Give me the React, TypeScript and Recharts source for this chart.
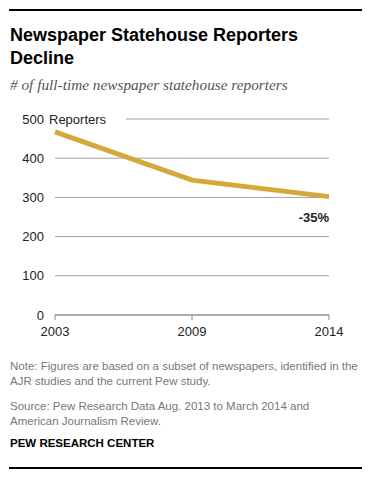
import React from 'react';
import { LineChart, Line, XAxis, YAxis, CartesianGrid, LabelList } from 'recharts';

const years = ['2003', '2009', '2014'];
const reporters = [467, 344, 302];
const yTicks = [0, 100, 200, 300, 400, 500];
const changeLabel = '-35%';

const data = years.map((year, i) => ({ year, reporters: reporters[i] }));

const sans = '"Liberation Sans", Arial, sans-serif';

const YTick = (props: any) => {
  const { x, y, payload } = props;
  const isTop = payload.value === 500;
  return (
    <g>
      {isTop && <rect x={x + 2} y={y - 9} width={80} height={18} fill="#fff" />}
      <text x={x} y={y} dy="0.35em" textAnchor="end" fontSize={13} fill="#222" fontFamily={sans}>
        {payload.value}
      </text>
      {isTop && (
        <text x={x + 5} y={y} dy="0.35em" textAnchor="start" fontSize={13} fill="#222" fontFamily={sans}>
          Reporters
        </text>
      )}
    </g>
  );
};

const EndLabel = (props: any) => {
  const { x, y, index } = props;
  if (index !== reporters.length - 1) return null;
  return (
    <text x={x} y={y + 21} dy="0.35em" textAnchor="end" fontSize={13} fontWeight={700} fill="#222" fontFamily={sans}>
      {changeLabel}
    </text>
  );
};

const App: React.FC = () => {
  return (
    <div style={{ position: 'absolute', left: 0, top: 0, width: 385, height: 481, background: '#fff', fontFamily: sans }}>
      <div style={{ position: 'absolute', left: 9, top: 9, width: 353, height: 2, background: '#000' }} />
      <div style={{ position: 'absolute', left: 10, top: 24, width: 340, fontSize: 18, fontWeight: 700, lineHeight: '23px', color: '#000' }}>
        Newspaper Statehouse Reporters
        <br />
        Decline
      </div>
      <div style={{ position: 'absolute', left: 10, top: 76, fontSize: 15.3, fontStyle: 'italic', fontFamily: '"Liberation Serif", Georgia, serif', color: '#555' }}>
        # of full-time newspaper statehouse reporters
      </div>

      <div style={{ position: 'absolute', left: 0, top: 0 }}>
        <LineChart width={385} height={342} data={data} margin={{ top: 119, right: 56, bottom: 0, left: 0 }}>
          <CartesianGrid vertical={false} stroke="#a0a0a0" strokeWidth={1} />
          <XAxis
            dataKey="year"
            axisLine={{ stroke: '#888' }}
            tickLine={{ stroke: '#888' }}
            tickSize={5}
            tickMargin={7}
            height={27}
            interval={0}
            tick={{ fontSize: 13, fill: '#222', fontFamily: sans }}
          />
          <YAxis
            domain={[0, 500]}
            ticks={yTicks}
            width={55}
            axisLine={false}
            tickLine={false}
            tickSize={0}
            tickMargin={11}
            tick={<YTick />}
          />
          <Line
            type="linear"
            dataKey="reporters"
            stroke="#d4a93a"
            strokeWidth={5}
            dot={false}
            isAnimationActive={false}
          >
            <LabelList dataKey="reporters" content={<EndLabel />} />
          </Line>
        </LineChart>
      </div>

      <div style={{ position: 'absolute', left: 10, top: 359, width: 356, fontSize: 11.5, lineHeight: '15px', color: '#777' }}>
        Note: Figures are based on a subset of newspapers, identified in the AJR studies and the current Pew study.
      </div>
      <div style={{ position: 'absolute', left: 10, top: 399, width: 356, fontSize: 11.5, lineHeight: '15px', color: '#777' }}>
        Source: Pew Research Data Aug. 2013 to March 2014 and
        <br />
        American Journalism Review.
      </div>
      <div style={{ position: 'absolute', left: 10, top: 437, fontSize: 11.5, fontWeight: 700, color: '#000' }}>
        PEW RESEARCH CENTER
      </div>
      <div style={{ position: 'absolute', left: 9, top: 467, width: 353, height: 2, background: '#000' }} />
    </div>
  );
};

export default App;
